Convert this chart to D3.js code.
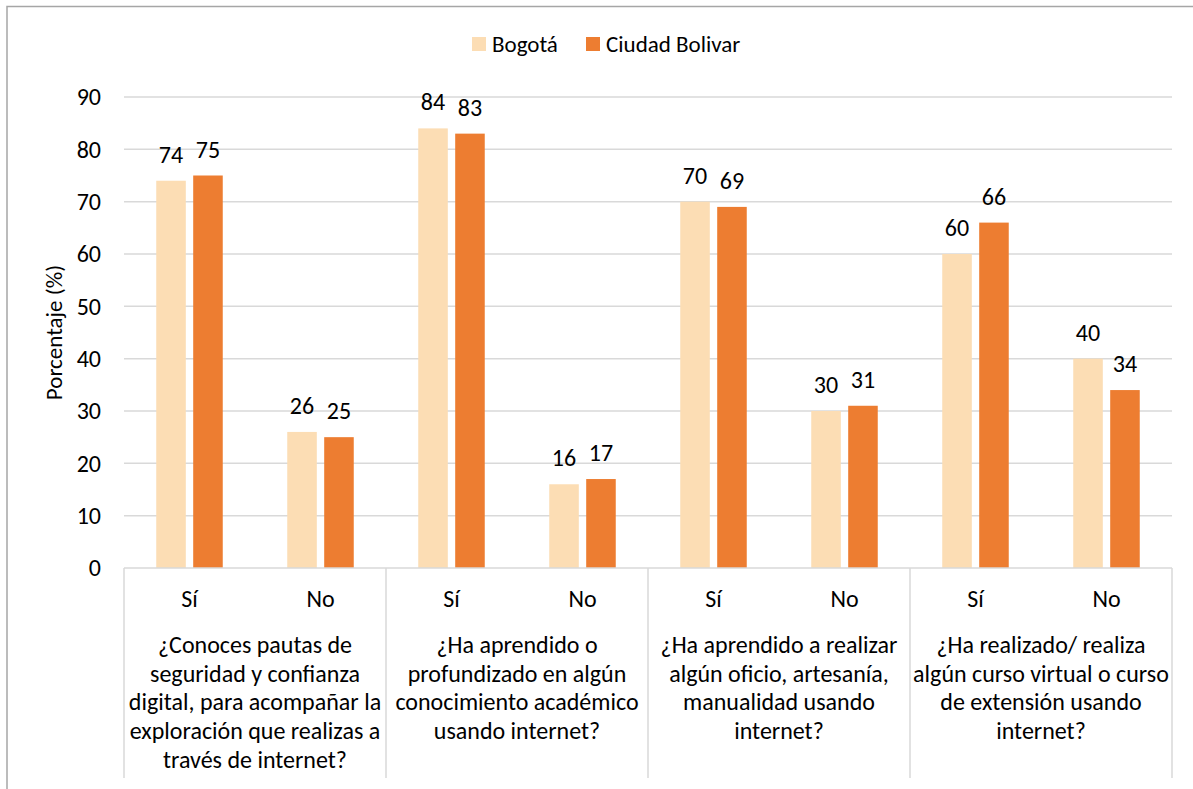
<!DOCTYPE html>
<html>
<head>
<meta charset="utf-8">
<script src="https://cdn.jsdelivr.net/npm/d3@7"></script>
<style>
  html, body { margin: 0; padding: 0; background: #fff; }
  svg text { font-family: Carlito, Calibri, Lato, sans-serif; fill: #000; }
</style>
</head>
<body>
<div id="chart"></div>
<script>
// Data
const series = ['Bogotá', 'Ciudad Bolivar']
const answers = ['Sí', 'No']
const questions = [
  ['¿Conoces pautas de', 'seguridad y confianza', 'digital, para acompañar la', 'exploración que realizas a', 'través de internet?'],
  ['¿Ha aprendido o', 'profundizado en algún', 'conocimiento académico', 'usando internet?'],
  ['¿Ha aprendido a realizar', 'algún oficio, artesanía,', 'manualidad usando', 'internet?'],
  ['¿Ha realizado/ realiza', 'algún curso virtual o curso', 'de extensión usando', 'internet?']
]
const bogota = [74, 26, 84, 16, 70, 30, 60, 40]
const ciudadBolivar = [75, 25, 83, 17, 69, 31, 66, 34]
const yTicks = [0, 10, 20, 30, 40, 50, 60, 70, 80, 90]
const colors = ['#FCDDB4', '#ED7D31']

const W = 1193, H = 789
const pLeft = 124, pRight = 1172, pTop = 97, pBottom = 568
const fs = '24px'

const svg = d3.select('#chart').append('svg')
  .attr('width', W).attr('height', H)

// outer chart border (only top and left visible in the crop)
svg.append('path')
  .attr('d', `M7,${H} L7,6.5 L${W},6.5`)
  .attr('fill', 'none').attr('stroke', '#a6a6a6').attr('stroke-width', 1.5)

const y = d3.scaleLinear().domain([0, 90]).range([pBottom, pTop])

const slots = d3.range(questions.length * answers.length)
const x0 = d3.scaleBand().domain(slots).range([pLeft, pRight])
const pairW = 66.5
const x1 = d3.scaleBand().domain(series).range([0, pairW]).paddingInner(0.2)
const off = (x0.bandwidth() - pairW) / 2

// gridlines
svg.append('g').selectAll('line').data(yTicks.filter(d => d > 0)).join('line')
  .attr('x1', pLeft).attr('x2', pRight)
  .attr('y1', d => y(d)).attr('y2', d => y(d))
  .attr('stroke', '#d9d9d9').attr('stroke-width', 1.5)

// y tick labels
svg.append('g').selectAll('text').data(yTicks).join('text')
  .attr('x', 101).attr('y', d => y(d))
  .attr('dy', '0.35em')
  .attr('text-anchor', 'end')
  .style('font-size', fs)
  .text(d => d)

// y axis title
svg.append('text')
  .attr('transform', `translate(62,${(pTop + pBottom) / 2}) rotate(-90)`)
  .attr('text-anchor', 'middle')
  .style('font-size', '23px')
  .text('Porcentaje (%)')

// bars
const rows = slots.map(i => ({ i, vals: [bogota[i], ciudadBolivar[i]] }))
const groups = svg.append('g').selectAll('g').data(rows).join('g')
  .attr('transform', d => `translate(${x0(d.i) + off},0)`)

groups.selectAll('rect').data(d => d.vals.map((v, k) => ({ v, k }))).join('rect')
  .attr('x', d => x1(series[d.k]))
  .attr('width', x1.bandwidth())
  .attr('y', d => y(d.v))
  .attr('height', d => y(0) - y(d.v))
  .attr('fill', d => colors[d.k])

groups.selectAll('text').data(d => d.vals.map((v, k) => ({ v, k }))).join('text')
  .attr('x', d => x1(series[d.k]) + x1.bandwidth() / 2)
  .attr('y', d => y(d.v) - 18)
  .attr('text-anchor', 'middle')
  .style('font-size', fs)
  .text(d => d.v)

// axis line and group dividers
svg.append('line')
  .attr('x1', pLeft).attr('x2', pRight).attr('y1', pBottom).attr('y2', pBottom)
  .attr('stroke', '#d9d9d9').attr('stroke-width', 1.5)

const groupW = (pRight - pLeft) / questions.length
svg.append('g').selectAll('line').data(d3.range(questions.length + 1)).join('line')
  .attr('x1', d => pLeft + d * groupW).attr('x2', d => pLeft + d * groupW)
  .attr('y1', pBottom).attr('y2', 778)
  .attr('stroke', '#d9d9d9').attr('stroke-width', 1.5)

// Sí / No labels
svg.append('g').selectAll('text').data(slots).join('text')
  .attr('x', d => x0(d) + x0.bandwidth() / 2)
  .attr('y', 607)
  .attr('text-anchor', 'middle')
  .style('font-size', fs)
  .text(d => answers[d % answers.length])

// question labels
const q = svg.append('g').selectAll('text').data(questions).join('text')
  .attr('text-anchor', 'middle')
  .style('font-size', fs)
q.selectAll('tspan').data((d, i) => d.map(s => ({ s, i }))).join('tspan')
  .attr('x', d => pLeft + (d.i + 0.5) * groupW)
  .attr('y', (d, j) => 653 + j * 28.7)
  .text(d => d.s)

// legend
const legend = svg.append('g')
const legX = [472, 586]
series.forEach((s, k) => {
  legend.append('rect')
    .attr('x', legX[k]).attr('y', 37).attr('width', 14).attr('height', 14)
    .attr('fill', colors[k])
  legend.append('text')
    .attr('x', legX[k] + 20).attr('y', 44).attr('dy', '0.35em')
    .style('font-size', '23px')
    .text(s)
})
</script>
</body>
</html>
